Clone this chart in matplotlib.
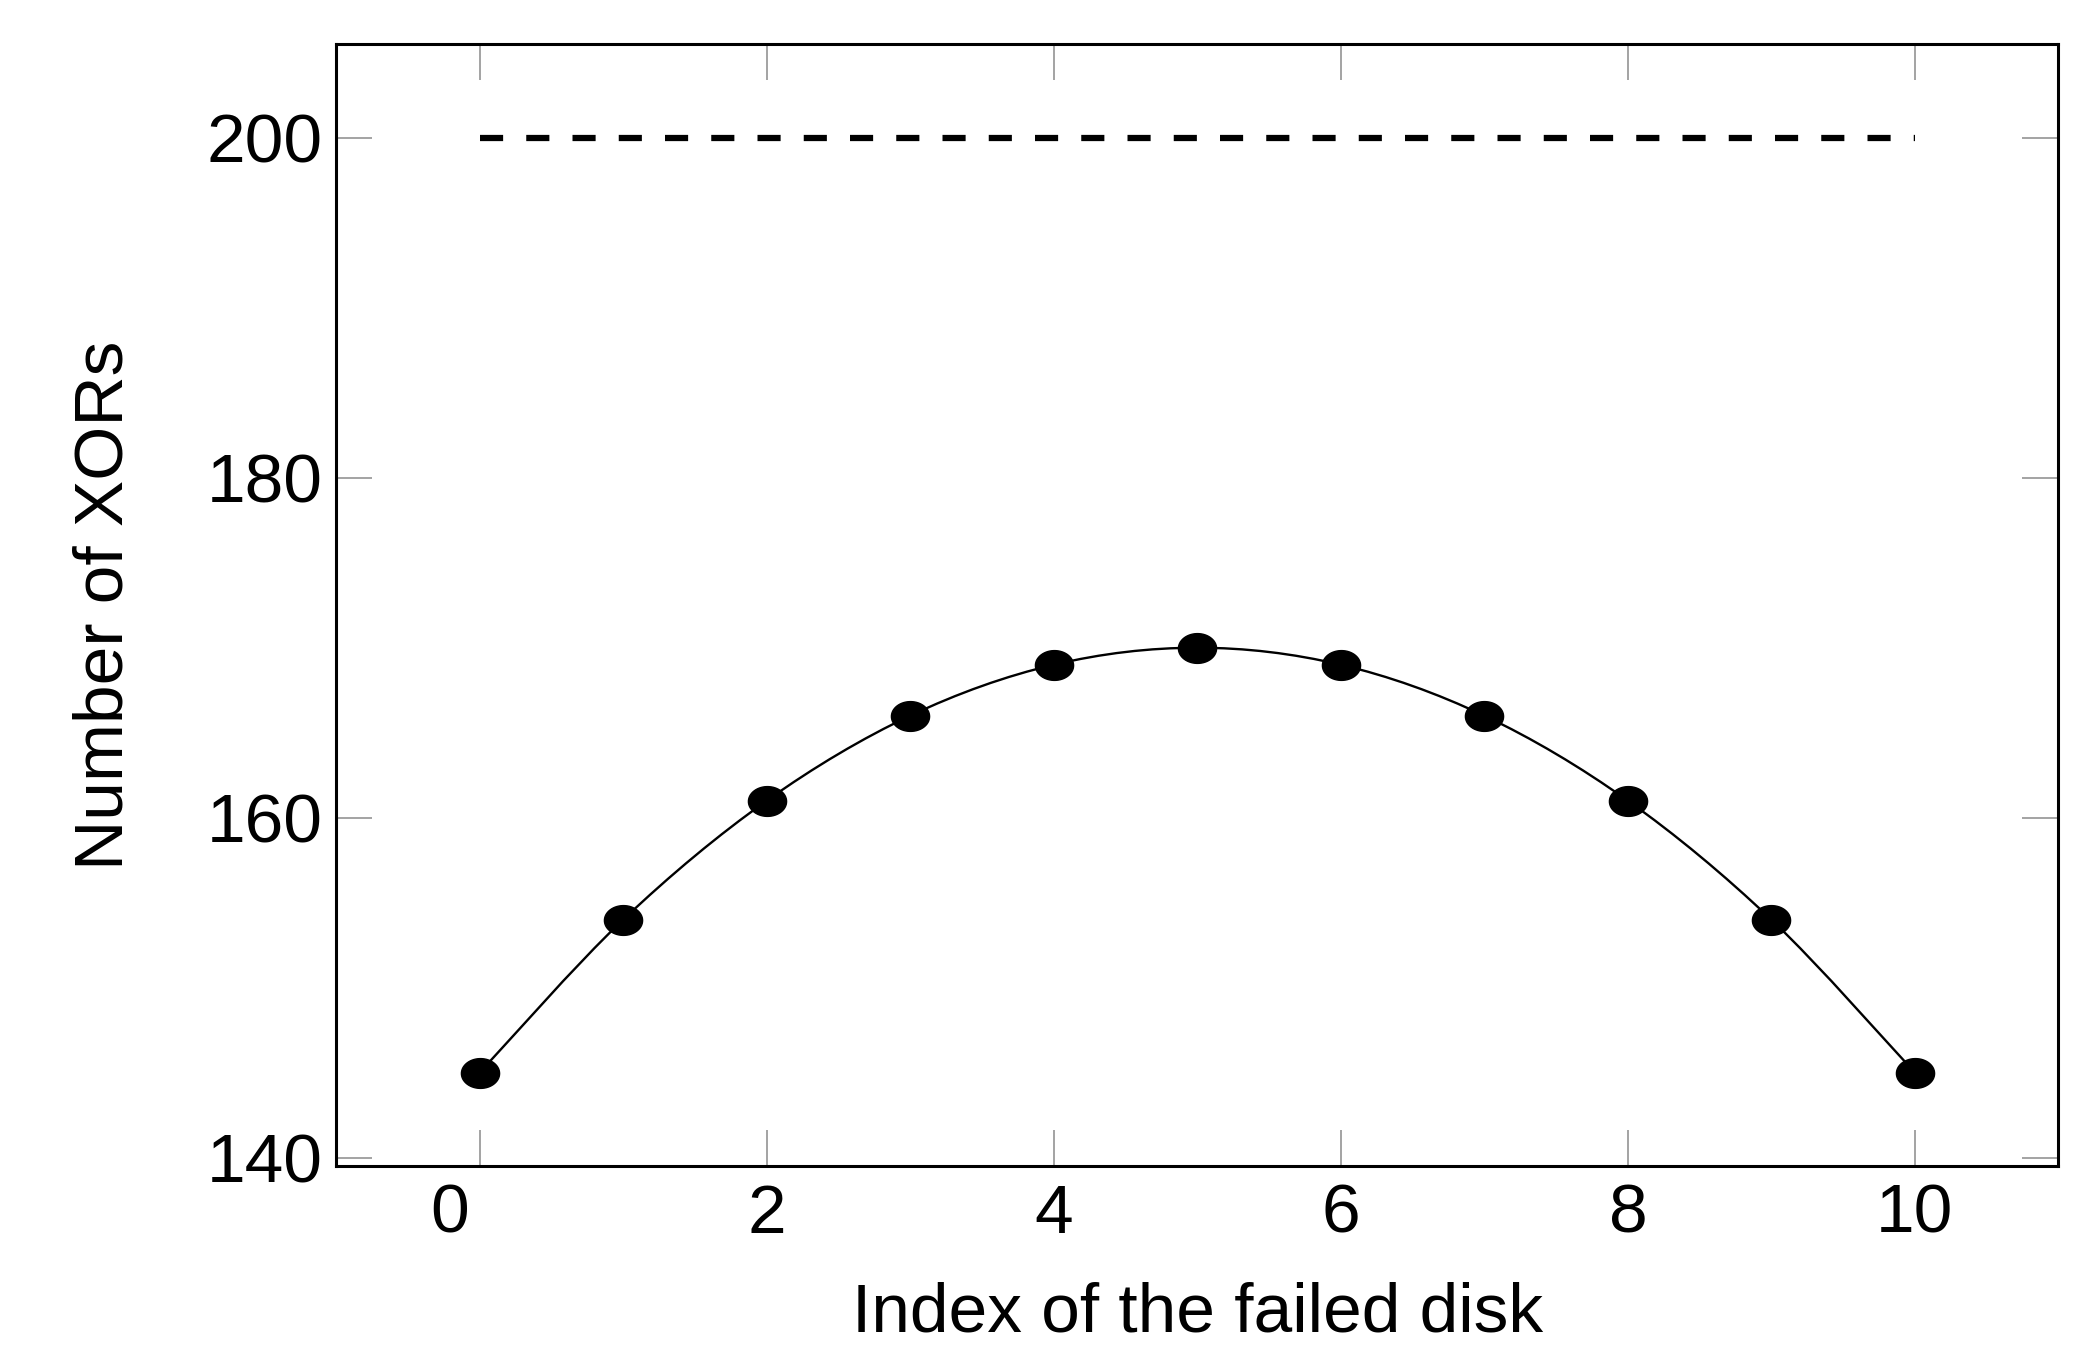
import numpy as np
import matplotlib
matplotlib.use("Agg")
import matplotlib.pyplot as plt
from matplotlib.path import Path
from matplotlib.patches import PathPatch
import matplotlib.transforms as mtransforms

plt.rcParams['font.family'] = ['Liberation Sans', 'DejaVu Sans']

# data
disk_index = [0, 1, 2, 3, 4, 5, 6, 7, 8, 9, 10]
xors = [145, 154, 161, 166, 169, 170, 169, 166, 161, 154, 145]
baseline = 200
xticks = [0, 2, 4, 6, 8, 10]
yticks = [140, 160, 180, 200]

fig = plt.figure(figsize=(20.75, 13.48), dpi=100)
ax = fig.add_axes([0.162, 0.135, 0.830, 0.832])

# smooth curve through the points (cubic Bezier segments, like pgfplots "smooth")
pts = np.column_stack([disk_index, xors]).astype(float)
verts = [pts[0]]
codes = [Path.MOVETO]
n = len(pts)
for i in range(n - 1):
    p0 = pts[i - 1] if i > 0 else pts[i]
    p1, p2 = pts[i], pts[i + 1]
    p3 = pts[i + 2] if i + 2 < n else pts[i + 1]
    c1 = p1 + (p2 - p0) / 6.0
    c2 = p2 - (p3 - p1) / 6.0
    verts += [c1, c2, p2]
    codes += [Path.CURVE4] * 3
ax.add_patch(PathPatch(Path(verts, codes), facecolor='none', edgecolor='black',
                       linewidth=1.7, zorder=2))

# ellipse-shaped markers
t = np.linspace(0, 2 * np.pi, 60)
ellipse = Path(np.column_stack([np.cos(t), 0.78 * np.sin(t)]), closed=True)
ax.plot(disk_index, xors, linestyle='none', marker=ellipse, markersize=27.5,
        color='black', zorder=3)

# baseline dashed line
ax.plot([disk_index[0], disk_index[-1]], [baseline, baseline], color='black',
        linewidth=4.5, dashes=(3.7, 3.7), zorder=2)

ax.set_xlim(-1.0, 11.0)
ax.set_ylim(139.5, 205.5)
ax.set_xticks(xticks)
ax.set_yticks(yticks)
ax.tick_params(direction='in', length=26, width=1.1, color='#8a8a8a',
               top=True, right=True, labelsize=50)
ax.tick_params(axis='x', pad=12)
ax.tick_params(axis='y', pad=10)
for s in ax.spines.values():
    s.set_linewidth(2.2)

ax.set_xlabel('Index of the failed disk', fontsize=50, labelpad=25)
ax.set_ylabel('Number of XORs', fontsize=50, labelpad=50)

# first x tick label sits slightly left of its tick in the original
lab0 = ax.get_xticklabels()[0]
lab0.set_transform(lab0.get_transform() +
                   mtransforms.ScaledTranslation(-0.30, 0, fig.dpi_scale_trans))

fig.savefig('out.png', dpi=100)
